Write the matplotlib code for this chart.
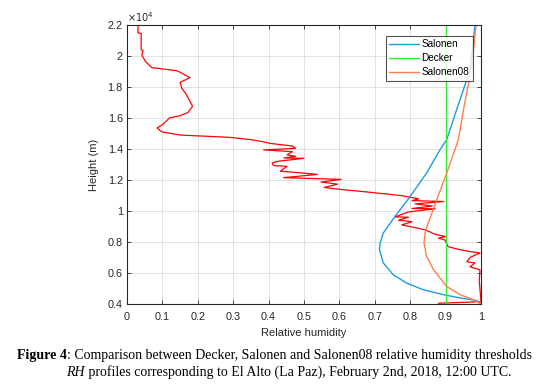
import numpy as np
import matplotlib.pyplot as plt
from matplotlib.ticker import FuncFormatter

plt.rcParams["font.family"] = ["Liberation Sans", "DejaVu Sans"]

# Radiosonde RH profile (relative humidity, height in m)
rh_obs = [0.031, 0.031, 0.040, 0.040, 0.045, 0.042, 0.052, 0.070, 0.140, 0.150,
          0.178, 0.150, 0.155, 0.165, 0.175, 0.185, 0.172, 0.150, 0.120, 0.102,
          0.085, 0.099, 0.150, 0.290, 0.348, 0.386, 0.405, 0.467, 0.476, 0.386,
          0.467, 0.452, 0.476, 0.443, 0.500, 0.424, 0.410, 0.414, 0.452, 0.433,
          0.490, 0.538, 0.443, 0.605, 0.548, 0.595, 0.557, 0.595, 0.690, 0.776,
          0.824, 0.805, 0.895, 0.814, 0.862, 0.805, 0.871, 0.795, 0.757, 0.795,
          0.767, 0.805, 0.776, 0.824, 0.843, 0.870, 0.900, 0.880, 0.898, 0.907,
          0.932, 0.969, 0.997, 0.969, 0.960, 0.983, 0.969, 0.997, 0.995, 1.000,
          0.880]
h_obs = [22000, 21500, 21450, 20400, 20350, 20050, 19650, 19250, 19050, 18950,
         18600, 18300, 17900, 17600, 17200, 16750, 16350, 16150, 16000, 15600,
         15350, 15100, 14900, 14750, 14610, 14460, 14360, 14190, 14040, 13940,
         13830, 13620, 13520, 13420, 13400, 13200, 13090, 12930, 12880, 12570,
         12460, 12360, 12150, 12040, 11870, 11730, 11520, 11410, 11200, 10990,
         10780, 10670, 10610, 10460, 10320, 10160, 10140, 9940, 9620, 9600,
         9410, 9310, 9100, 8880, 8780, 8500, 8350, 8250, 8130, 7700,
         7550, 7380, 7300, 7000, 6720, 6650, 6400, 6200, 5500, 4150,
         4050]

# Salonen threshold
h_sal = [4000, 4230, 4390, 4600, 4920, 5350, 5890, 6650, 7500, 7940, 8580,
         9650, 10940, 12440, 13950, 14600, 16530, 19100, 22000]
rh_sal = [1.000, 0.988, 0.941, 0.894, 0.837, 0.790, 0.752, 0.724, 0.713, 0.715,
          0.724, 0.757, 0.800, 0.846, 0.884, 0.903, 0.931, 0.969, 0.983]

# Salonen08 threshold
h_sal08 = [4000, 4280, 4600, 5130, 6210, 7070, 7940, 8580, 9230, 10730, 12440,
           14600, 16730, 19310, 22000]
rh_sal08 = [1.000, 0.978, 0.941, 0.903, 0.866, 0.846, 0.839, 0.842, 0.851, 0.875,
            0.903, 0.936, 0.952, 0.974, 0.986]

# Decker threshold
rh_decker = [0.9, 0.9]
h_decker = [4000, 22000]

fig = plt.figure(figsize=(5.51, 3.84), dpi=100)
ax = fig.add_axes([0.2305, 0.2083, 0.6425, 0.7267])

ax.plot(rh_obs, h_obs, color="#ff0000", linewidth=0.9)
ax.plot(rh_sal, h_sal, color="#1a9ee0", linewidth=1.0, label="Salonen")
ax.plot(rh_decker, h_decker, color="#33ee33", linewidth=1.0, label="Decker")
ax.plot(rh_sal08, h_sal08, color="#ff7f4a", linewidth=1.0, label="Salonen08")

ax.set_xlim(0, 1)
ax.set_ylim(4000, 22000)
ax.set_xticks(np.arange(0, 1.01, 0.1))
ax.set_yticks(np.arange(4000, 22001, 2000))
ax.xaxis.set_major_formatter(FuncFormatter(lambda v, p: f"{v:g}"))
ax.yaxis.set_major_formatter(FuncFormatter(lambda v, p: f"{v/1e4:g}"))
ax.grid(True, color="#dddddd", linewidth=0.6)
ax.tick_params(direction="in", top=True, right=True, length=3, width=0.6,
               labelsize=7.8, colors="#262626")
ax.tick_params(axis="x", pad=6)
ax.tick_params(axis="y", pad=3)
for s in ax.spines.values():
    s.set_color("#262626")
    s.set_linewidth(0.8)

ax.set_xlabel("Relative humidity", fontsize=8, color="#262626", labelpad=4)
ax.set_ylabel("Height (m)", fontsize=8, color="#262626", labelpad=6)
ax.text(0.0, 1.003, r"$\times10^4$", transform=ax.transAxes, fontsize=7,
        color="#262626", ha="left", va="bottom")

leg = ax.legend(loc="upper right", bbox_to_anchor=(0.976, 0.961), borderaxespad=0,
                fontsize=7.2, frameon=True, fancybox=False, edgecolor="#262626",
                handlelength=3.0, handletextpad=0.2, borderpad=0.35, labelspacing=0.4)
leg.get_frame().set_linewidth(0.8)

# Caption
serif = ["Liberation Serif", "DejaVu Serif"]
fs = 10
t1a = fig.text(0.031, 0.073, "Figure 4", fontsize=fs, family=serif, weight="bold", va="center")
t2a = fig.text(0.12, 0.031, "RH", fontsize=fs, family=serif, style="italic", va="center")
fig.canvas.draw()
x1 = t1a.get_window_extent().x1 / fig.bbox.width
x2 = t2a.get_window_extent().x1 / fig.bbox.width
fig.text(x1, 0.073, ": Comparison between Decker, Salonen and Salonen08 relative humidity thresholds",
         fontsize=fs, family=serif, va="center")
fig.text(x2, 0.031, " profiles corresponding to El Alto (La Paz), February 2nd, 2018, 12:00 UTC.",
         fontsize=fs, family=serif, va="center")

fig.savefig("out.png", dpi=100)
